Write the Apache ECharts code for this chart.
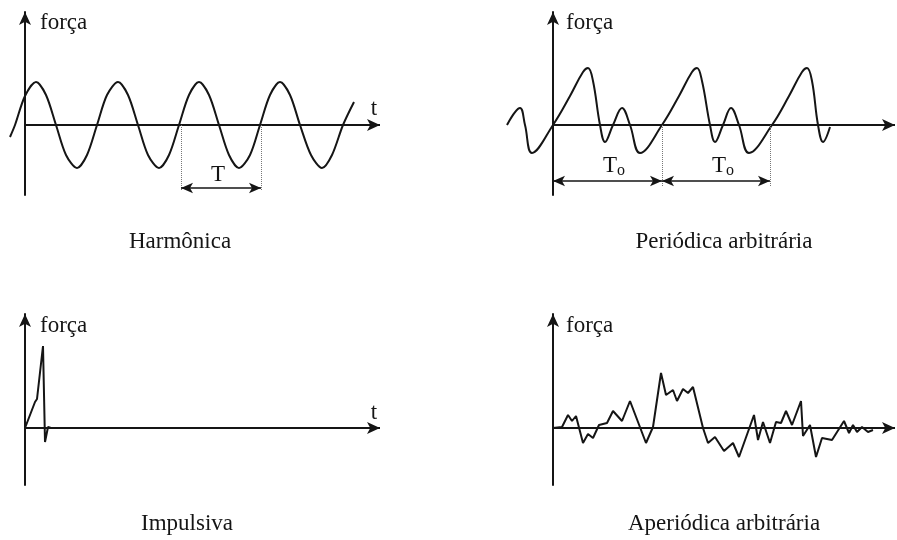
<!DOCTYPE html>
<html>
<head>
<meta charset="utf-8">
<title>Tipos de força</title>
<script src="https://cdn.jsdelivr.net/npm/echarts@6/dist/echarts.min.js"></script>
<style>
	html, body { margin: 0; background: #fff; }
	#chart { width: 897px; height: 540px; }
</style>
</head>
<body>
<div id="chart"></div>
<script>
// harmônica
var harmT = [-15, -10, 0, 11, 21, 31, 41, 52, 62, 72, 82, 93, 103, 113, 123, 134, 144, 154, 164, 174,
	184, 194, 204, 214, 225, 235, 245, 255, 265, 275, 286, 297, 307, 318, 329];
var harmF = [-12, 0, 29, 43, 30, 0, -30, -43, -30, 0, 30, 43, 30, 0, -30, -43, -30, 0, 30, 43,
	30, 0, -30, -43, -30, 0, 30, 43, 30, 0, -30, -43, -30, 0, 23];
var harmPeriod = [156, 236];

// periódica arbitrária
var perT = [-46, -33, -28, -21, 0, 17, 30, 35, 40, 47, 52, 60, 69, 77, 87,
	109, 126, 139, 144, 149, 157, 162, 170, 178, 186, 196,
	219, 236, 249, 254, 259, 265, 270, 277];
var perF = [0, 17, 0, -28, 0, 29, 53, 57, 44, 0, -17, 0, 17, 0, -28,
	0, 29, 53, 57, 44, 0, -17, 0, 17, 0, -28,
	0, 29, 53, 57, 44, 0, -17, -2];
var perPeriod = [0, 109, 217];

// impulsiva
var impT = [0, 10, 12, 18, 20, 23, 26];
var impF = [0, 26, 29, 82, -14, 1, 0];

// aperiódica arbitrária
var aperT = [0, 9, 15, 19, 23, 30, 35, 40, 46, 54, 60, 69, 77, 93, 100, 108, 113, 120, 124, 130,
	135, 140, 150, 155, 162, 171, 180, 186, 201, 205, 210, 217, 223, 228, 233, 239, 248, 250,
	257, 263, 269, 279, 291, 296, 300, 304, 309, 315, 320];
var aperF = [0, 1, 13, 7, 12, -15, -6, -10, 3, 5, 17, 7, 27, -15, 1, 55, 33, 38, 27, 39,
	35, 41, 0, -15, -9, -23, -15, -29, 13, -12, 6, -15, 6, 5, 17, 3, 27, -8,
	3, -29, -10, -12, 7, -5, 3, -4, 1, -4, -2];

var ink = '#151515';
var serif = 'Liberation Serif';

function pairs(xs, ys) {
	var out = [];
	for (var i = 0; i < xs.length; i++) {
		out.push([xs[i], ys[i]]);
	}
	return out;
}

// eixos sem marcas; o eixo t é desenhado por markLine para começar no zero
function axisX(idx, min, max) {
	return {
		type: 'value', gridIndex: idx, min: min, max: max,
		axisLine: { show: false },
		axisTick: { show: false }, axisLabel: { show: false }, splitLine: { show: false }
	};
}
function axisY(idx, min, max) {
	return {
		type: 'value', gridIndex: idx, min: min, max: max,
		axisLine: { onZero: true, symbol: ['none', 'arrow'], symbolSize: [9, 13],
			lineStyle: { color: ink, width: 2 } },
		axisTick: { show: false }, axisLabel: { show: false }, splitLine: { show: false }
	};
}

function curve(idx, data, smooth, marks) {
	return {
		type: 'line', xAxisIndex: idx, yAxisIndex: idx,
		data: data, smooth: smooth, showSymbol: false, clip: false, silent: true,
		lineStyle: { color: ink, width: 2 },
		markLine: {
			silent: true, label: { show: false }, symbol: ['none', 'none'],
			data: marks
		}
	};
}

function tAxis(max) {
	return [{ coord: [0, 0], symbol: 'none', lineStyle: { type: 'solid', color: ink, width: 2 } },
		{ coord: [max, 0], symbol: 'arrow', symbolSize: [9, 13] }];
}
// linhas pontilhadas + seta dupla do período
function dotted(x, y) {
	return [{ coord: [x, 0], symbol: 'none', lineStyle: { type: 'dotted', color: '#777', width: 1 } },
		{ coord: [x, y], symbol: 'none' }];
}
function span(x1, x2, y) {
	return [{ coord: [x1, y], symbol: 'arrow', symbolSize: [8, 12], lineStyle: { type: 'solid', color: ink, width: 1.5 } },
		{ coord: [x2, y], symbol: 'arrow', symbolSize: [8, 12] }];
}

var harmMarks = [tAxis(355), dotted(harmPeriod[0], -65), dotted(harmPeriod[1], -65),
	span(harmPeriod[0], harmPeriod[1], -63)];
var perMarks = [tAxis(342), dotted(perPeriod[1], -62), dotted(perPeriod[2], -62),
	span(perPeriod[0], perPeriod[1], -56), span(perPeriod[1], perPeriod[2], -56)];

function label(x, y, text, size, align) {
	return {
		type: 'text', x: x, y: y, silent: true,
		style: { text: text, fill: ink, font: size + 'px "' + serif + '"',
			textAlign: align || 'left', textVerticalAlign: 'middle' }
	};
}
function subLabel(x, y) {
	return {
		type: 'text', x: x, y: y, silent: true,
		style: { text: '{a|T}{b|o}', textAlign: 'center', textVerticalAlign: 'middle',
			rich: { a: { fontSize: 23, fontFamily: serif, fill: ink },
				b: { fontSize: 16, fontFamily: serif, fill: ink, padding: [10, 0, 0, 0] } } }
	};
}

var option = {
	animation: false,
	backgroundColor: '#fff',
	grid: [
		{ left: 10, right: 517, top: 12, bottom: 345 },
		{ left: 507, right: 2, top: 12, bottom: 345 },
		{ left: 25, right: 517, top: 314, bottom: 55 },
		{ left: 553, right: 2, top: 314, bottom: 55 }
	],
	xAxis: [axisX(0, -15, 355), axisX(1, -46, 342), axisX(2, 0, 355), axisX(3, 0, 342)],
	yAxis: [axisY(0, -70, 113), axisY(1, -70, 113), axisY(2, -57, 114), axisY(3, -57, 114)],
	series: [
		curve(0, pairs(harmT, harmF), 0.3, harmMarks),
		curve(1, pairs(perT, perF), 0.4, perMarks),
		curve(2, pairs(impT, impF), false, [tAxis(355)]),
		curve(3, pairs(aperT, aperF), false, [tAxis(342)])
	],
	graphic: [
		label(40, 23, 'força', 23),
		label(374, 109, 't', 23, 'center'),
		label(180, 242, 'Harmônica', 23, 'center'),
		label(218, 175, 'T', 23, 'center'),
		label(566, 23, 'força', 23),
		label(724, 242, 'Periódica arbitrária', 23, 'center'),
		subLabel(614, 166),
		subLabel(723, 166),
		label(40, 326, 'força', 23),
		label(374, 413, 't', 23, 'center'),
		label(187, 524, 'Impulsiva', 23, 'center'),
		label(566, 326, 'força', 23),
		label(724, 524, 'Aperiódica arbitrária', 23, 'center')
	]
};

var myChart = echarts.init(document.getElementById('chart'));
myChart.setOption(option);
</script>
</body>
</html>
